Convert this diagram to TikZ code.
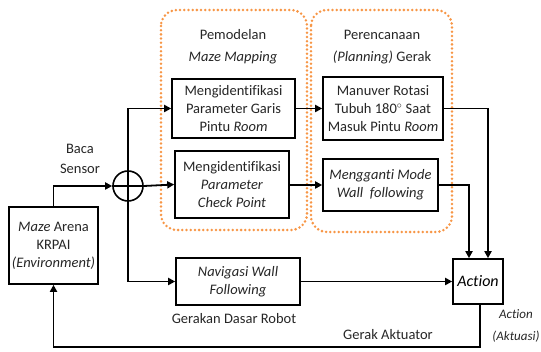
\documentclass[tikz,border=0pt]{standalone}
\usepackage{fontspec}
\setmainfont{Carlito}[Ligatures=NoCommon]
\usetikzlibrary{arrows.meta}
\definecolor{grporange}{HTML}{F79646}
\definecolor{txtgray}{HTML}{262626}
\tikzset{
  blk/.style={draw=black, line width=1.6pt, fill=white, align=center, inner sep=1pt,
              text=txtgray, font=\fontsize{14.5}{18}\selectfont},
  grp/.style={draw=grporange, line width=2.8pt, dash pattern=on 0pt off 4.2pt,
              line cap=round, rounded corners=16pt},
  flow/.style={line width=1.8pt, -{Triangle[length=7pt,width=7pt]}},
  lbl/.style={align=center, font=\fontsize{14.5}{22}\selectfont, text=txtgray},
}
\begin{document}
\begin{tikzpicture}[x=1pt,y=-1pt]
\useasboundingbox (0,0) rectangle (541,352);

% dotted group outlines
\draw[grp] (161,10) rectangle (307,230);
\draw[grp] (311,10) rectangle (452,232);
\node[lbl] (g1) at (233,47) {Pemodelan\\\textit{Maze Mapping}};
\node[lbl] (g2) at (382,47) {Perencanaan\\\textit{(Planning)} Gerak};

% blocks
\node[blk, minimum width=89pt, minimum height=77pt] (env) at (53.5,245.5)
  {\textit{Maze} Arena\\KRPAI\\\textit{(Environment)}};
\node[blk, minimum width=123pt, minimum height=59pt] (b1) at (233.5,108.5)
  {Mengidentifikasi\\Parameter Garis\\Pintu \textit{Room}};
\node[blk, minimum width=114pt, minimum height=67pt] (b2) at (232,184.5)
  {Mengidentifikasi\\\textit{Parameter}\\\textit{Check Point}};
\node[blk, minimum width=120pt, minimum height=63pt] (b3) at (383,108.5)
  {Manuver Rotasi\\Tubuh 180$^{\circ}$ Saat\\Masuk Pintu \textit{Room}};
\node[blk, minimum width=115pt, minimum height=52pt] (b4) at (380.5,185)
  {\textit{Mengganti Mode}\\\textit{Wall\ \ following}};
\node[blk, minimum width=124pt, minimum height=47pt] (nav) at (238,281.5)
  {\textit{Navigasi Wall}\\\textit{Following}};
\node[blk, minimum width=50pt, minimum height=45pt, font=\fontsize{16}{18}\selectfont, text=black] (act) at (478,281.5)
  {\textit{Action}};

% summing junction
\node[draw, circle, line width=1.6pt, minimum size=30pt, inner sep=0pt] (sum) at (128,186) {};
\draw[line width=1.6pt] (sum.north) -- (sum.south) (sum.west) -- (sum.east);

% free labels
\node[lbl, font=\fontsize{14.5}{20}\selectfont] (baca) at (80,159) {Baca\\Sensor};
\node[lbl] (gdr) at (234,319) {Gerakan Dasar Robot};
\node[lbl] (gak) at (388,335) {Gerak Aktuator};
\node[lbl, font=\itshape\fontsize{13}{22}\selectfont] (aks) at (516,326) {Action\\(Aktuasi)};

% connectors
\draw[flow] (env.north) |- (sum.west);
\draw[flow] (sum.north) |- (b1.west);
\draw[flow] (sum.east) -- (b2.west);
\draw[flow] (sum.south) |- (nav.west);
\draw[flow] (b1.east) -- (b3.west);
\draw[flow] (b2.east |- b4.west) -- (b4.west);
\coordinate (a1) at (469,0);
\coordinate (a2) at (488,0);
\draw[flow] (b4.east) -| (a1 |- act.north);
\draw[flow] (b3.east) -| (a2 |- act.north);
\draw[flow] (nav.east) -- (act.west);
\coordinate (fb) at (0,347);
\draw[flow] (act.south -| 480,0) |- (fb -| env.south) -- (env.south);
\end{tikzpicture}
\end{document}
